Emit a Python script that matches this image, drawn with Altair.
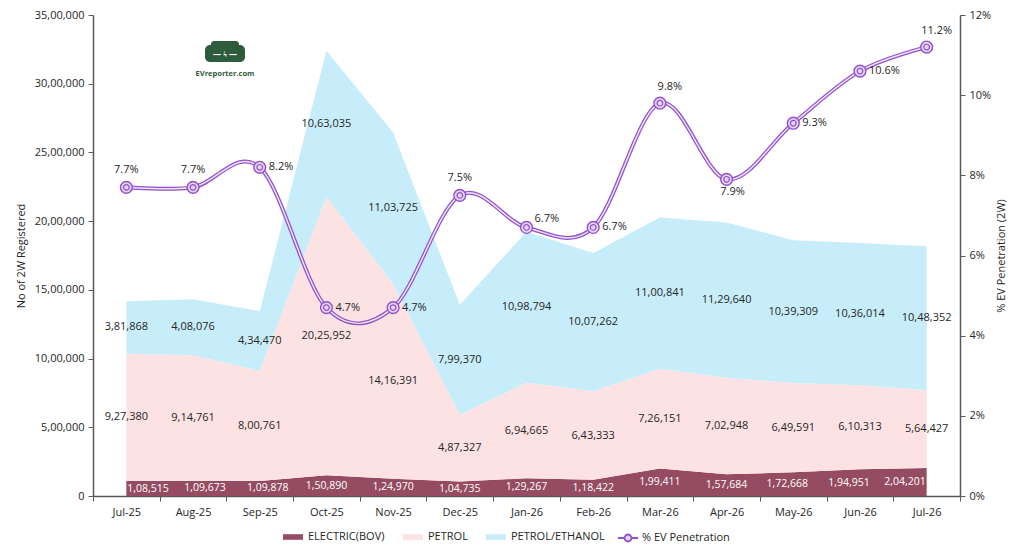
import altair as alt
import pandas as pd

MONTHS = ["Jul-25", "Aug-25", "Sep-25", "Oct-25", "Nov-25", "Dec-25", "Jan-26",
          "Feb-26", "Mar-26", "Apr-26", "May-26", "Jun-26", "Jul-26"]
ELECTRIC = [108515, 109673, 109878, 150890, 124970, 104735, 129267,
            118422, 199411, 157684, 172668, 194951, 204201]
PETROL = [927380, 914761, 800761, 2025952, 1416391, 487327, 694665,
          643333, 726151, 702948, 649591, 610313, 564427]
PETROL_ETHANOL = [381868, 408076, 434470, 1063035, 1103725, 799370, 1098794,
                  1007262, 1100841, 1129640, 1039309, 1036014, 1048352]
EV_PCT = [7.7, 7.7, 8.2, 4.7, 4.7, 7.5, 6.7, 6.7, 9.8, 7.9, 9.3, 10.6, 11.2]

SERIES = ["ELECTRIC(BOV)", "PETROL", "PETROL/ETHANOL"]
LINE_NAME = "% EV Penetration"
COLORS = ["#954C62", "#FDE2E3", "#C8EDFA"]
PURPLE = "#9150CC"

# label placement groups for % labels
ABOVE = ["Jul-25", "Aug-25", "Dec-25"]
ABOVE_RIGHT = ["Mar-26", "Jul-26"]
RIGHT = ["Sep-25", "Oct-25", "Nov-25", "Feb-26", "May-26", "Jun-26"]
RIGHT_UP = ["Jan-26"]
BELOW = ["Apr-26"]
# horizontal nudges of the electric labels (as in the reference)
ELEC_SHIFT = {"Aug-25": 12, "Sep-25": 8, "May-26": -6, "Jun-26": -11}

rows = []
for i, m in enumerate(MONTHS):
    for k, (name, vals) in enumerate(zip(SERIES, [ELECTRIC, PETROL, PETROL_ETHANOL])):
        rows.append({"month": m, "series": name, "value": vals[i], "order": k})
long = pd.DataFrame(rows)
pct = pd.DataFrame({"month": MONTHS, "pct": [v / 100 for v in EV_PCT],
                    "name": [LINE_NAME] * len(MONTHS)})

FONT = "Open Sans"
AX = "#595959"
TXT = "#262626"

xenc = alt.X("month:N", sort=MONTHS,
             scale=alt.Scale(type="band", paddingInner=0, paddingOuter=0),
             axis=alt.Axis(title=None, labelAngle=0, tickBand="extent", tickSize=5,
                           labelPadding=5, domainColor=AX, tickColor=AX, domainWidth=1.5,
                           labelFontSize=11, labelColor=TXT))

yscale = alt.Scale(domain=[0, 3500000], nice=False)
yaxis = alt.Axis(title="No of 2W Registered", values=list(range(0, 3500001, 500000)),
                 format=",.0f", grid=False, tickSize=5, domainColor=AX, tickColor=AX,
                 domainWidth=1.5, labelFontSize=11, labelColor=TXT, titleFontSize=11,
                 titleFontWeight="normal", titleColor=TXT, titlePadding=8, labelPadding=4)

area_legend = alt.Legend(orient="none", legendX=190, legendY=512, direction="horizontal",
                         title=None, symbolSize=400, labelFontSize=11, labelColor=TXT,
                         columnPadding=18, labelOffset=5,
                         symbolType="M-1,-0.28H1V0.28H-1Z", symbolStrokeWidth=0)

line_legend = alt.Legend(orient="none", legendX=524, legendY=512, direction="horizontal",
                         title=None, symbolSize=400, labelFontSize=11, labelColor=TXT,
                         labelOffset=3, symbolStrokeWidth=1.8, symbolFillColor="#E4D3F5",
                         labelLimit=200,
                         symbolType="M-1,0H-0.35M0.35,0H1M0.35,0A0.35,0.35 0 1 1 -0.35,0A0.35,0.35 0 1 1 0.35,0Z")

area = alt.Chart(long).mark_area(opacity=1).encode(
    x=xenc,
    y=alt.Y("value:Q", stack="zero", scale=yscale, axis=yaxis),
    color=alt.Color("series:N", scale=alt.Scale(domain=SERIES, range=COLORS),
                    legend=area_legend),
    order=alt.Order("order:Q"),
)

stacked = alt.Chart(long).transform_stack(
    stack="value", groupby=["month"], sort=[alt.SortField("order")], as_=["y0", "y1"]
).transform_calculate(mid="(datum.y0 + datum.y1) / 2")


def stack_text(expr, color, size=11, **kw):
    return stacked.transform_filter(expr).mark_text(
        fontSize=size, font=FONT, color=color, **kw).encode(
        x=xenc,
        y=alt.Y("mid:Q", scale=yscale, axis=yaxis),
        text=alt.Text("value:Q", format=","),
    )


FIRST, LAST = MONTHS[0], MONTHS[-1]
special = [FIRST, LAST] + list(ELEC_SHIFT)
special_js = "[" + ",".join("'" + m + "'" for m in special) + "]"
layers = [area, stack_text("datum.order > 0", TXT)]
layers.append(stack_text("datum.order == 0 && indexof(" + special_js + ", datum.month) < 0",
                         "white", size=10.5))
layers.append(stack_text("datum.order == 0 && datum.month == '" + FIRST + "'", "white",
                         size=10.5, align="left", dx=1))
layers.append(stack_text("datum.order == 0 && datum.month == '" + LAST + "'", "white",
                         size=10.5, align="right", dx=-1))
for m, d in ELEC_SHIFT.items():
    layers.append(stack_text("datum.order == 0 && datum.month == '" + m + "'", "white",
                             size=10.5, dx=d))

left = alt.layer(*layers)

ry_scale = alt.Scale(domain=[0, 0.12], nice=False)
ry_axis = alt.Axis(title="% EV Penetration (2W)", orient="right", format=".0%",
                   values=[0, 0.02, 0.04, 0.06, 0.08, 0.10, 0.12], grid=False, tickSize=5,
                   domainColor=AX, tickColor=AX, domainWidth=1.5, labelFontSize=11,
                   labelColor=TXT, titleFontSize=11, titleFontWeight="normal",
                   titleColor=TXT, titleAngle=270, titlePadding=16, labelPadding=4)

pbase = alt.Chart(pct).encode(x=xenc, y=alt.Y("pct:Q", scale=ry_scale, axis=ry_axis))

line_outer = pbase.mark_line(interpolate="cardinal", strokeWidth=4.0).encode(
    stroke=alt.Stroke("name:N", scale=alt.Scale(domain=[LINE_NAME], range=[PURPLE]),
                      legend=line_legend))
line_inner = pbase.mark_line(interpolate="cardinal", color="#EEE3F9", strokeWidth=1.5)
pt_outer = pbase.mark_point(shape="circle", filled=True, size=140, fill="#E4D3F5",
                            stroke=PURPLE, strokeWidth=1.4, opacity=1)
pt_inner = pbase.mark_point(shape="circle", filled=False, size=32, stroke=PURPLE,
                            strokeWidth=1.2, opacity=1)


def pct_text(months, **kw):
    return pbase.transform_filter(
        alt.FieldOneOfPredicate(field="month", oneOf=months)
    ).mark_text(fontSize=11, font=FONT, color=TXT, **kw).encode(
        text=alt.Text("pct:Q", format=".1%"))


lab_above = pct_text(ABOVE, dy=-17, align="center")
lab_above_r = pct_text(ABOVE_RIGHT, dy=-16, dx=10, align="center")
lab_right = pct_text(RIGHT, dx=9, align="left")
lab_right_up = pct_text(RIGHT_UP, dx=8, dy=-8, align="left")
lab_below = pct_text(BELOW, dx=6, dy=13, align="center")

right = alt.layer(line_outer, line_inner, pt_outer, pt_inner,
                  lab_above, lab_above_r, lab_right, lab_right_up, lab_below)

# logo decoration
one = pd.DataFrame({"a": [0]})
logo_body = alt.Chart(one).mark_rect(color="#2E5B3C", cornerRadius=5).encode(
    x=alt.value(112), x2=alt.value(152), y=alt.value(30), y2=alt.value(47))
logo_roof = alt.Chart(one).mark_rect(color="#2E5B3C", cornerRadius=3).encode(
    x=alt.value(118), x2=alt.value(146), y=alt.value(26), y2=alt.value(33))
logo_bolt = alt.Chart(one).mark_text(text="— ϟ —", color="white", fontSize=8,
                                     font=FONT, fontWeight="bold").encode(
    x=alt.value(132), y=alt.value(40))
logo_text = alt.Chart(one).mark_text(text="EVreporter.com", color="#2E5B3C", fontSize=7.5,
                                     font=FONT, fontWeight="bold").encode(
    x=alt.value(132), y=alt.value(59))
logo = alt.layer(logo_body, logo_roof, logo_bolt, logo_text)

chart = alt.layer(left, right, logo).resolve_scale(y="independent").properties(
    width=867, height=481,
    autosize=alt.AutoSizeParams(type="none"),
    padding={"left": 85, "top": 7, "right": 56, "bottom": 50},
).configure(
    font=FONT,
    locale={"number": {"decimal": ".", "thousands": ",", "grouping": [3, 2],
                       "currency": ["₹", ""]}},
).configure_view(stroke=None).configure_text(font=FONT)

chart.save("out.html", embed_options={"renderer": "svg", "actions": False})
